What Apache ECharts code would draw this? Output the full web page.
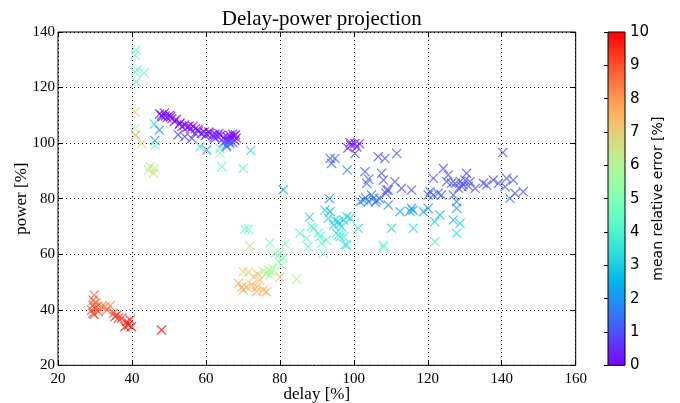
<!DOCTYPE html>
<html><head><meta charset="utf-8">
<script src="https://cdn.jsdelivr.net/npm/echarts@6/dist/echarts.min.js"></script>
<style>html,body{margin:0;padding:0;background:#fff}#c{width:680px;height:403px}</style>
</head><body><div id="c"></div>
<script>
// [delay %, power %, mean relative error %]
const topMint = [[41.1,133.5,4.6],[40.8,131.7,4.5],[40.8,125.6,4.4],[41.4,126.3,4.6],[43.3,125.2,4.5],[41.1,122.0,4.4]];
const leftMixed = [[40.8,111.2,6.8],[40.8,105.2,5.8],[41.0,102.9,7.8],[42.6,99.9,6.9],[46.0,106.9,3.3],[47.4,104.7,2.0],[46.2,100.9,2.3],[46.2,99.1,4.8],[44.9,91.5,6.2],[46.2,90.9,6.4],[45.8,89.1,6.9],[44.4,90.3,6.0]];
const purpleBand = [[47.5,110.5,0.1],[48.2,109.5,0.1],[48.8,110.8,0.0],[49.5,109.2,0.1],[50.2,110.0,0.0],[50.8,108.8,0.1],[51.5,107.8,0.1],[52.0,108.5,0.0],[52.8,106.8,0.1],[53.5,106.0,0.1],[54.2,106.5,0.0],[55.0,105.8,0.1],[55.8,105.2,0.1],[56.5,106.0,0.0],[57.2,105.2,0.1],[58.0,104.2,0.1],[58.8,103.5,0.2],[59.5,104.0,0.1],[60.2,103.2,0.1],[61.0,103.5,0.1],[61.8,103.0,0.2],[62.5,103.2,0.1],[63.2,102.5,0.2],[64.0,102.8,0.1],[64.8,101.8,0.2],[65.5,101.0,0.3],[66.2,100.5,0.3],[66.8,101.8,0.2],[67.5,102.5,0.1],[68.0,103.0,0.1],[67.2,103.2,0.1],[66.5,102.8,0.2],[68.2,101.8,0.2],[65.8,102.2,0.2],[62.2,102.2,0.3],[48.0,110.0,0.0],[49.0,109.8,0.1],[50.5,109.5,0.1],[53.0,107.2,0.1],[55.5,106.2,0.1],[57.8,104.8,0.1],[60.8,104.0,0.1],[63.5,103.5,0.1],[66.0,101.2,0.2],[67.8,101.0,0.2]];
const violetBelow = [[52.5,103.0,0.8],[54.3,102.3,0.8],[56.2,101.7,0.9],[57.0,103.5,0.7],[59.8,102.7,0.8],[62.5,101.7,0.9],[64.8,100.2,1.0],[65.5,99.2,1.2],[67.2,100.2,0.9]];
const midCyan = [[58.4,98.7,3.4],[60.2,97.5,2.0],[63.8,98.1,4.0],[63.8,96.3,5.5],[64.3,91.5,4.2],[70.1,90.9,4.2],[72.1,97.3,3.3],[65.6,98.7,1.8],[66.5,99.9,1.3],[80.9,83.2,2.4]];
const purple100 = [[100.3,99.9,0.2],[99.2,99.3,0.3],[101.5,99.8,0.4],[100.8,98.6,0.3],[98.4,98.2,0.5],[100.3,96.3,1.0],[99.0,100.2,0.1]];
const violetMid = [[93.6,94.5,1.3],[94.9,94.5,1.4],[94.0,92.7,1.3],[98.2,90.3,1.8],[106.6,95.1,1.0],[108.4,94.5,1.0],[111.6,96.3,1.1],[103.0,89.7,1.2],[103.5,85.5,1.3],[107.5,89.1,1.0],[108.0,86.7,1.0],[108.9,83.1,1.0],[108.7,81.9,1.2],[111.1,86.1,1.0],[112.9,83.7,1.0],[115.6,83.1,1.0],[109.3,83.1,1.1],[104.0,87.0,1.2]];
const blueMid = [[102.6,79.5,1.6],[103.9,78.9,1.6],[105.3,80.1,1.5],[106.2,79.3,1.6],[101.7,78.9,1.7],[104.8,81.3,1.5],[103.2,80.3,1.6],[105.8,78.7,1.7],[107.0,80.0,1.5],[109.3,77.7,1.8],[112.5,75.3,2.2],[115.6,76.5,2.0],[115.2,75.5,2.0],[116.0,75.8,2.1],[118.8,75.3,2.2],[120.1,76.5,2.0],[123.3,74.1,2.5],[127.8,78.9,1.6],[127.8,76.5,2.0],[93.4,80.0,2.2]];
const cyanRight = [[101.2,69.3,3.3],[110.2,69.3,3.1],[116.1,69.3,3.2],[121.9,71.7,3.0],[126.9,72.3,2.8],[128.7,71.1,2.9],[127.8,67.5,3.2],[121.9,64.5,3.8]];
const violetRight = [[140.3,96.6,1.0],[124.2,90.9,0.9],[125.5,88.5,1.0],[121.5,87.3,1.0],[125.1,86.1,1.0],[126.4,85.5,1.1],[130.5,89.1,0.9],[130.1,86.7,1.0],[131.4,86.1,1.0],[129.2,84.3,1.1],[128.3,83.7,1.1],[132.8,83.7,1.0],[135.0,85.5,0.9],[135.9,84.9,1.0],[137.7,86.7,1.0],[139.1,85.5,1.0],[141.3,87.3,1.1],[143.1,86.7,1.0],[140.9,84.3,1.2],[143.6,81.9,1.1],[145.8,82.5,1.0],[142.2,80.1,1.5],[120.6,82.5,1.2],[121.5,81.3,1.3],[122.8,81.9,1.2],[123.7,81.3,1.3],[120.1,81.3,1.2],[126.9,81.3,1.3],[127.4,85.5,1.0],[129.5,85.0,1.0],[131.0,84.5,1.1],[128.8,86.2,1.0]];
const cyanMid = [[92.2,75.9,3.0],[93.6,75.3,2.3],[93.1,72.9,3.0],[94.9,72.3,3.1],[95.8,71.7,3.0],[97.2,72.3,3.0],[98.1,73.5,2.9],[99.0,72.9,3.0],[96.7,69.9,3.3],[95.3,67.5,3.8],[96.3,66.3,3.6],[97.2,66.3,3.7],[98.1,63.3,3.5],[88.0,73.3,3.3],[88.6,69.9,4.0],[89.1,69.3,4.0],[90.4,67.5,4.1],[90.8,66.3,4.0],[91.3,63.9,4.2],[85.4,67.5,4.3],[87.2,65.7,4.3],[87.7,62.7,4.5],[91.7,60.3,4.6],[92.6,65.1,4.2],[95.8,66.9,3.7],[97.6,63.3,3.5],[108.0,63.3,4.4],[108.0,62.5,4.5],[94.5,70.5,3.1],[96.0,70.8,3.1]];
const warmMid = [[70.6,69.0,4.3],[71.5,69.0,4.4],[71.9,63.0,6.7],[77.3,64.1,4.5],[81.4,63.7,4.8],[78.7,60.3,5.0],[80.0,60.3,5.1],[80.9,58.5,5.0],[80.5,56.1,5.2],[79.6,57.3,5.1],[76.9,54.3,5.8],[76.4,53.1,5.9],[77.8,53.7,5.8],[75.5,53.9,5.9],[77.3,52.5,5.9],[78.0,54.8,5.7],[80.0,51.7,7.2],[84.5,51.0,6.2],[70.1,53.7,6.8],[71.5,53.5,6.9],[68.8,49.5,7.6],[69.7,48.1,7.6],[71.0,48.1,7.5],[70.1,47.1,7.7],[72.4,48.9,7.5],[73.7,48.1,7.6],[74.6,50.7,7.4],[75.5,47.1,7.6],[73.7,46.5,7.7],[76.4,46.5,7.6],[72.8,51.9,6.9],[74.0,52.8,7.3]];
const redLow = [[29.8,45.3,8.8],[29.5,43.5,8.9],[29.5,41.7,9.0],[30.5,41.1,8.9],[29.5,38.7,9.2],[29.1,39.9,9.1],[30.9,39.3,9.0],[31.8,41.1,8.6],[32.7,41.1,8.5],[34.1,41.4,8.3],[33.2,39.9,8.7],[35.0,38.7,9.3],[35.9,38.1,9.4],[36.3,36.9,9.5],[35.4,37.5,9.4],[37.2,36.9,9.5],[38.6,35.7,9.7],[39.5,36.3,9.7],[38.1,33.9,9.9],[39.9,33.9,9.8],[39.0,34.5,9.9],[48.0,32.7,10.0],[30.0,40.5,9.0],[30.2,42.5,8.8],[29.8,38.3,9.2]];

const xTicks = [20,40,60,80,100,120,140,160];
const yTicks = [20,40,60,80,100,120,140];
const cbTicks = [0,1,2,3,4,5,6,7,8,9,10];

const allPoints = [].concat(topMint,leftMixed,purpleBand,violetBelow,midCyan,purple100,violetMid,blueMid,cyanRight,violetRight,cyanMid,warmMid,redLow);

// matplotlib "rainbow" colormap stops
function rainbow(t){
  const r=Math.min(1,Math.abs(2*t-0.5)), g=Math.sin(Math.PI*t), b=Math.cos(Math.PI*t/2);
  const h=v=>Math.round(Math.max(0,Math.min(1,v))*255);
  return 'rgb('+h(r)+','+h(g)+','+h(b)+')';
}
const stops=[]; for(let i=0;i<=20;i++) stops.push(rainbow(i/20));

const chart = echarts.init(document.getElementById('c'));
const serif = '"Liberation Serif","DejaVu Serif",serif';
const sans = '"DejaVu Sans",sans-serif';
const X = 'path://M0,0.9L0.9,0L5,4.1L9.1,0L10,0.9L5.9,5L10,9.1L9.1,10L5,5.9L0.9,10L0,9.1L4.1,5Z';
const L=58, T=32, W=517.7, H=333.3;

chart.setOption({
  animation:false,
  title:{text:'Delay-power projection',left:L+W/2,top:4,textAlign:'center',textStyle:{fontFamily:serif,fontSize:21,fontWeight:'normal',color:'#000'}},
  grid:[{left:L,top:T,width:W,height:H,show:true,borderColor:'#000',borderWidth:1,backgroundColor:'transparent',outerBoundsMode:'none',containLabel:false},
        {left:608,top:T,width:17,height:H,outerBoundsMode:'none',containLabel:false}],
  visualMap:{type:'continuous',show:false,min:0,max:10,dimension:2,seriesIndex:0,inRange:{color:stops}},
  xAxis:[
    {type:'value',gridIndex:0,min:20,max:160,interval:20,
     axisLine:{show:false},axisTick:{inside:true,length:5,lineStyle:{color:'#000'}},
     axisLabel:{fontFamily:serif,fontSize:15,color:'#000',margin:6,formatter:v=>xTicks.includes(v)?String(v):''},
     splitLine:{show:true,lineStyle:{color:'#000',type:[1,3],width:1}}},
    {type:'value',gridIndex:0,position:'top',min:20,max:160,interval:20,axisLine:{show:false},axisTick:{inside:true,length:5,lineStyle:{color:'#000'}},axisLabel:{show:false},splitLine:{show:false}},
    {type:'value',gridIndex:1,min:0,max:1,show:false}
  ],
  yAxis:[
    {type:'value',gridIndex:0,min:20,max:140,interval:20,
     axisLine:{show:false},axisTick:{inside:true,length:5,lineStyle:{color:'#000'}},
     axisLabel:{fontFamily:serif,fontSize:15,color:'#000',margin:3,formatter:v=>yTicks.includes(v)?String(v):''},
     splitLine:{show:true,lineStyle:{color:'#000',type:[1,3],width:1}}},
    {type:'value',gridIndex:0,position:'right',min:20,max:140,interval:20,axisLine:{show:false},axisTick:{inside:true,length:5,lineStyle:{color:'#000'}},axisLabel:{show:false},splitLine:{show:false}},
    {type:'value',gridIndex:1,position:'right',min:0,max:10,interval:1,z:10,
     axisLine:{show:false},axisTick:{inside:true,length:4,lineStyle:{color:'#000'}},
     axisLabel:{fontFamily:sans,fontSize:15,color:'#000',margin:5,formatter:v=>cbTicks.includes(v)?String(v):''},
     splitLine:{show:false}}
  ],
  graphic:[
    {type:'rect',z:1,shape:{x:608,y:T,width:17,height:H},
     style:{fill:new echarts.graphic.LinearGradient(0,1,0,0,stops.map((c,i)=>({offset:i/(stops.length-1),color:c}))),stroke:'#000',lineWidth:1}},
    {type:'text',x:658,y:T+H/2,rotation:Math.PI/2,style:{text:'mean relative error [%]',font:'14px '+sans,fill:'#000',align:'center',verticalAlign:'middle'}},
    {type:'text',x:L+W/2,y:395,style:{text:'delay [%]',font:'17px '+serif,fill:'#000',align:'center',verticalAlign:'middle'}},
    {type:'text',x:22,y:T+H/2,rotation:Math.PI/2,style:{text:'power [%]',font:'17px '+serif,fill:'#000',align:'center',verticalAlign:'middle'}}
  ],
  series:[{type:'scatter',xAxisIndex:0,yAxisIndex:0,data:allPoints,symbol:X,symbolSize:10,itemStyle:{opacity:0.75},z:3}]
});
</script></body></html>
